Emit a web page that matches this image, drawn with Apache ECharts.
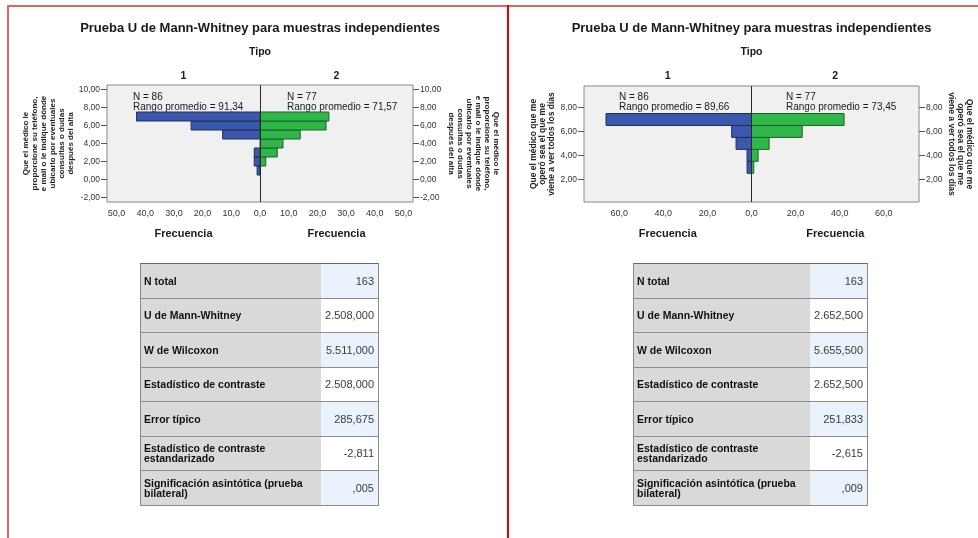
<!DOCTYPE html>
<html>
<head>
<meta charset="utf-8">
<script src="https://cdn.jsdelivr.net/npm/echarts@6/dist/echarts.min.js"></script>
<style>
  html, body { margin:0; padding:0; background:#fff; width:978px; height:538px; overflow:hidden; }
  #chart { position:absolute; left:0; top:0; width:978px; height:538px; }
  .frame { position:absolute; }
  .tbl { position:absolute; border:1px solid #8a8a8a; border-top-color:#666;
         font-family:"Liberation Sans", Arial, sans-serif; }
  .row { display:flex; box-sizing:border-box; border-bottom:1px solid #8c8c8c; }
  .row:last-child { border-bottom:none; }
  .lab { box-sizing:border-box; background:#d9d9d9; font-weight:bold; font-size:10.5px; line-height:10px;
         color:#111; padding-left:3px; display:flex; align-items:center; white-space:pre-line; }
  .val { box-sizing:border-box; flex:1; font-size:11px; color:#3a3a3a; text-align:right; padding-right:4px;
         display:flex; align-items:center; justify-content:flex-end; }
</style>
</head>
<body>
<div id="chart"></div>
<div class="frame" style="left:7px;top:5px;width:971px;height:2px;background:#e06666"></div>
<div class="frame" style="left:7px;top:5px;width:2px;height:533px;background:#e06666"></div>
<div class="frame" style="left:507px;top:5px;width:2px;height:533px;background:#e00000"></div>
<div id="tables"></div>
<script>
// ---------- data ----------
const chartTitle = "Prueba U de Mann-Whitney para muestras independientes";
const groupVarName = "Tipo";
const groupNames = ["1", "2"];
const freqLabel = "Frecuencia";
const groupN = [86, 77];

const levels = [1, 2, 3, 4, 5, 6, 7];

// Left chart: teléfono / mail
const leftAxisName = "Que el médico le\nproporcione su teléfono,\ne mail o le indique dónde\nubicarlo por eventuales\nconsultas o dudas\ndespués del alta";
const leftGroup1 = [1, 2, 2, 0, 13, 24, 43];
const leftGroup2 = [0, 2, 6, 8, 14, 23, 24];
const leftMeanRanks = [91.34, 71.57];
const leftYTicks = [-2, 0, 2, 4, 6, 8, 10];
const leftXTicks = [-50, -40, -30, -20, -10, 0, 10, 20, 30, 40, 50];

// Right chart: visita diaria
const rightAxisName = "Que el médico que me\noperó sea el que me\nviene a ver todos los días";
const rightGroup1 = [0, 0, 2, 2, 7, 9, 66];
const rightGroup2 = [0, 0, 1, 3, 8, 23, 42];
const rightMeanRanks = [89.66, 73.45];
const rightYTicks = [2, 4, 6, 8];
const rightXTicks = [-60, -40, -20, 0, 20, 40, 60];

// Tables
const tableLabels = ["N total", "U de Mann-Whitney", "W de Wilcoxon", "Estadístico de contraste",
  "Error típico", "Estadístico de contraste\nestandarizado", "Significación asintótica (prueba\nbilateral)"];
const leftTableValues = ["163", "2.508,000", "5.511,000", "2.508,000", "285,675", "-2,811", ",005"];
const rightTableValues = ["163", "2.652,500", "5.655,500", "2.652,500", "251,833", "-2,615", ",009"];

// ---------- helpers ----------
const FONT = '"Liberation Sans", Arial, sans-serif';
const BLUE = '#3c58ad', BLUE_B = '#1d2c60';
const GREEN = '#30b74a', GREEN_B = '#1c5e26';
const fmt = (v, d) => v.toFixed(d).replace('.', ',');

function barSeries(gridIdx, counts, side, fill, stroke, withLine) {
  const s = {
    type: 'custom',
    xAxisIndex: gridIdx, yAxisIndex: gridIdx * 2,
    encode: { x: 1, y: 0 },
    data: levels.map((l, i) => [l, counts[i]]),
    renderItem: function (params, api) {
      const y = api.value(0), c = api.value(1);
      if (!c) return null;
      const p1 = api.coord([side * c, y + 0.5]);
      const p2 = api.coord([0, y - 0.5]);
      return {
        type: 'rect',
        shape: { x: Math.min(p1[0], p2[0]), y: Math.min(p1[1], p2[1]),
                 width: Math.abs(p2[0] - p1[0]), height: Math.abs(p2[1] - p1[1]) },
        style: { fill: fill, stroke: stroke, lineWidth: 1 }
      };
    },
    silent: true, z: 2
  };
  if (withLine) {
    s.markLine = { silent: true, symbol: 'none', label: { show: false }, z: 5,
      lineStyle: { color: '#2a2a2a', type: 'solid', width: 1 }, data: [{ xAxis: 0 }] };
  }
  return s;
}

function xAxisFor(gridIdx, range, ticks) {
  return {
    type: 'value', gridIndex: gridIdx, min: -range, max: range,
    axisLine: { show: false, onZero: false }, axisTick: { show: false }, splitLine: { show: false },
    axisLabel: { customValues: ticks, formatter: v => fmt(Math.abs(v), 1),
                 fontFamily: FONT, fontSize: 9, color: '#333', margin: 7 }
  };
}

function yAxisFor(gridIdx, pos, min, max, ticks, name, gap, rot, nsize) {
  return {
    type: 'value', gridIndex: gridIdx, position: pos, min: min, max: max,
    axisLine: { show: false, onZero: false }, splitLine: { show: false },
    axisTick: { show: true, customValues: ticks, length: 6, lineStyle: { color: '#555' } },
    axisLabel: { customValues: ticks, formatter: v => fmt(v, 2), fontFamily: FONT, fontSize: 8.5,
                 color: '#333', margin: 7 },
    name: name, nameLocation: 'middle', nameGap: gap, nameRotate: rot,
    nameTextStyle: { fontFamily: FONT, fontWeight: 'bold', fontSize: nsize, lineHeight: 9,
                     color: '#222', align: 'center' }
  };
}

function txt(x, y, text, size, bold, align) {
  return { type: 'text', x: x, y: y, silent: true,
    style: { text: text, fontFamily: FONT, fontSize: size, fontWeight: bold ? 'bold' : 'normal',
             fill: '#1a1a1a', align: align || 'center', verticalAlign: 'middle' } };
}

// panel geometry
const P = [
  { left: 107, top: 85, width: 306, height: 117, cx: 260 },
  { left: 584, top: 86, width: 335, height: 116, cx: 751.5 }
];

const graphics = [];
P.forEach(function (p, i) {
  const ranks = i === 0 ? leftMeanRanks : rightMeanRanks;
  graphics.push(txt(p.cx, 28, chartTitle, 13, true));
  graphics.push(txt(p.cx, 52, groupVarName, 10.5, true));
  const h1 = p.left + (p.cx - p.left) / 2, h2 = p.cx + (p.left + p.width - p.cx) / 2;
  graphics.push(txt(h1, 76, groupNames[0], 10.5, true));
  graphics.push(txt(h2, 76, groupNames[1], 10.5, true));
  graphics.push(txt(h1, 234, freqLabel, 11, true));
  graphics.push(txt(h2, 234, freqLabel, 11, true));
  const a1 = i === 0 ? 133 : 619, a2 = i === 0 ? 287 : 786;
  graphics.push(txt(a1, 97.5, 'N = ' + groupN[0], 10, false, 'left'));
  graphics.push(txt(a1, 107, 'Rango promedio = ' + fmt(ranks[0], 2), 10, false, 'left'));
  graphics.push(txt(a2, 97.5, 'N = ' + groupN[1], 10, false, 'left'));
  graphics.push(txt(a2, 107, 'Rango promedio = ' + fmt(ranks[1], 2), 10, false, 'left'));
});

const option = {
  animation: false,
  backgroundColor: 'transparent',
  grid: P.map(p => ({ left: p.left, top: p.top, width: p.width, height: p.height, show: true,
                      backgroundColor: '#f0f0f0', borderColor: '#8a8a8a', borderWidth: 1 })),
  xAxis: [ xAxisFor(0, 53.3, leftXTicks), xAxisFor(1, 76, rightXTicks) ],
  yAxis: [
    yAxisFor(0, 'left', -2.5, 10.5, leftYTicks, leftAxisName, 29, 90, 8),
    yAxisFor(0, 'right', -2.5, 10.5, leftYTicks, leftAxisName, 34, -90, 8),
    yAxisFor(1, 'left', 0.1, 9.8, rightYTicks, rightAxisName, 20, 90, 8.5),
    yAxisFor(1, 'right', 0.1, 9.8, rightYTicks, rightAxisName, 25, -90, 8.5)
  ],
  series: [
    barSeries(0, leftGroup1, -1, BLUE, BLUE_B, true),
    barSeries(0, leftGroup2, 1, GREEN, GREEN_B, false),
    barSeries(1, rightGroup1, -1, BLUE, BLUE_B, true),
    barSeries(1, rightGroup2, 1, GREEN, GREEN_B, false)
  ],
  graphic: graphics
};

const chart = echarts.init(document.getElementById('chart'), null, { renderer: 'canvas' });
chart.setOption(option);

// ---------- tables ----------
function buildTable(left, width, labW, values) {
  const t = document.createElement('div');
  t.className = 'tbl';
  t.style.left = left + 'px'; t.style.top = '263px';
  t.style.width = (width - 2) + 'px';
  tableLabels.forEach(function (lab, i) {
    const r = document.createElement('div');
    r.className = 'row';
    r.style.height = (i === tableLabels.length - 1 ? 34 : 34.5) + 'px';
    const a = document.createElement('div');
    a.className = 'lab'; a.style.width = labW + 'px'; a.textContent = lab;
    const b = document.createElement('div');
    b.className = 'val'; b.textContent = values[i];
    b.style.background = (i % 2 === 0) ? '#eaf3fc' : '#ffffff';
    r.appendChild(a); r.appendChild(b);
    t.appendChild(r);
  });
  document.getElementById('tables').appendChild(t);
}
buildTable(140, 239, 180, leftTableValues);
buildTable(633, 235, 176, rightTableValues);
</script>
</body>
</html>
